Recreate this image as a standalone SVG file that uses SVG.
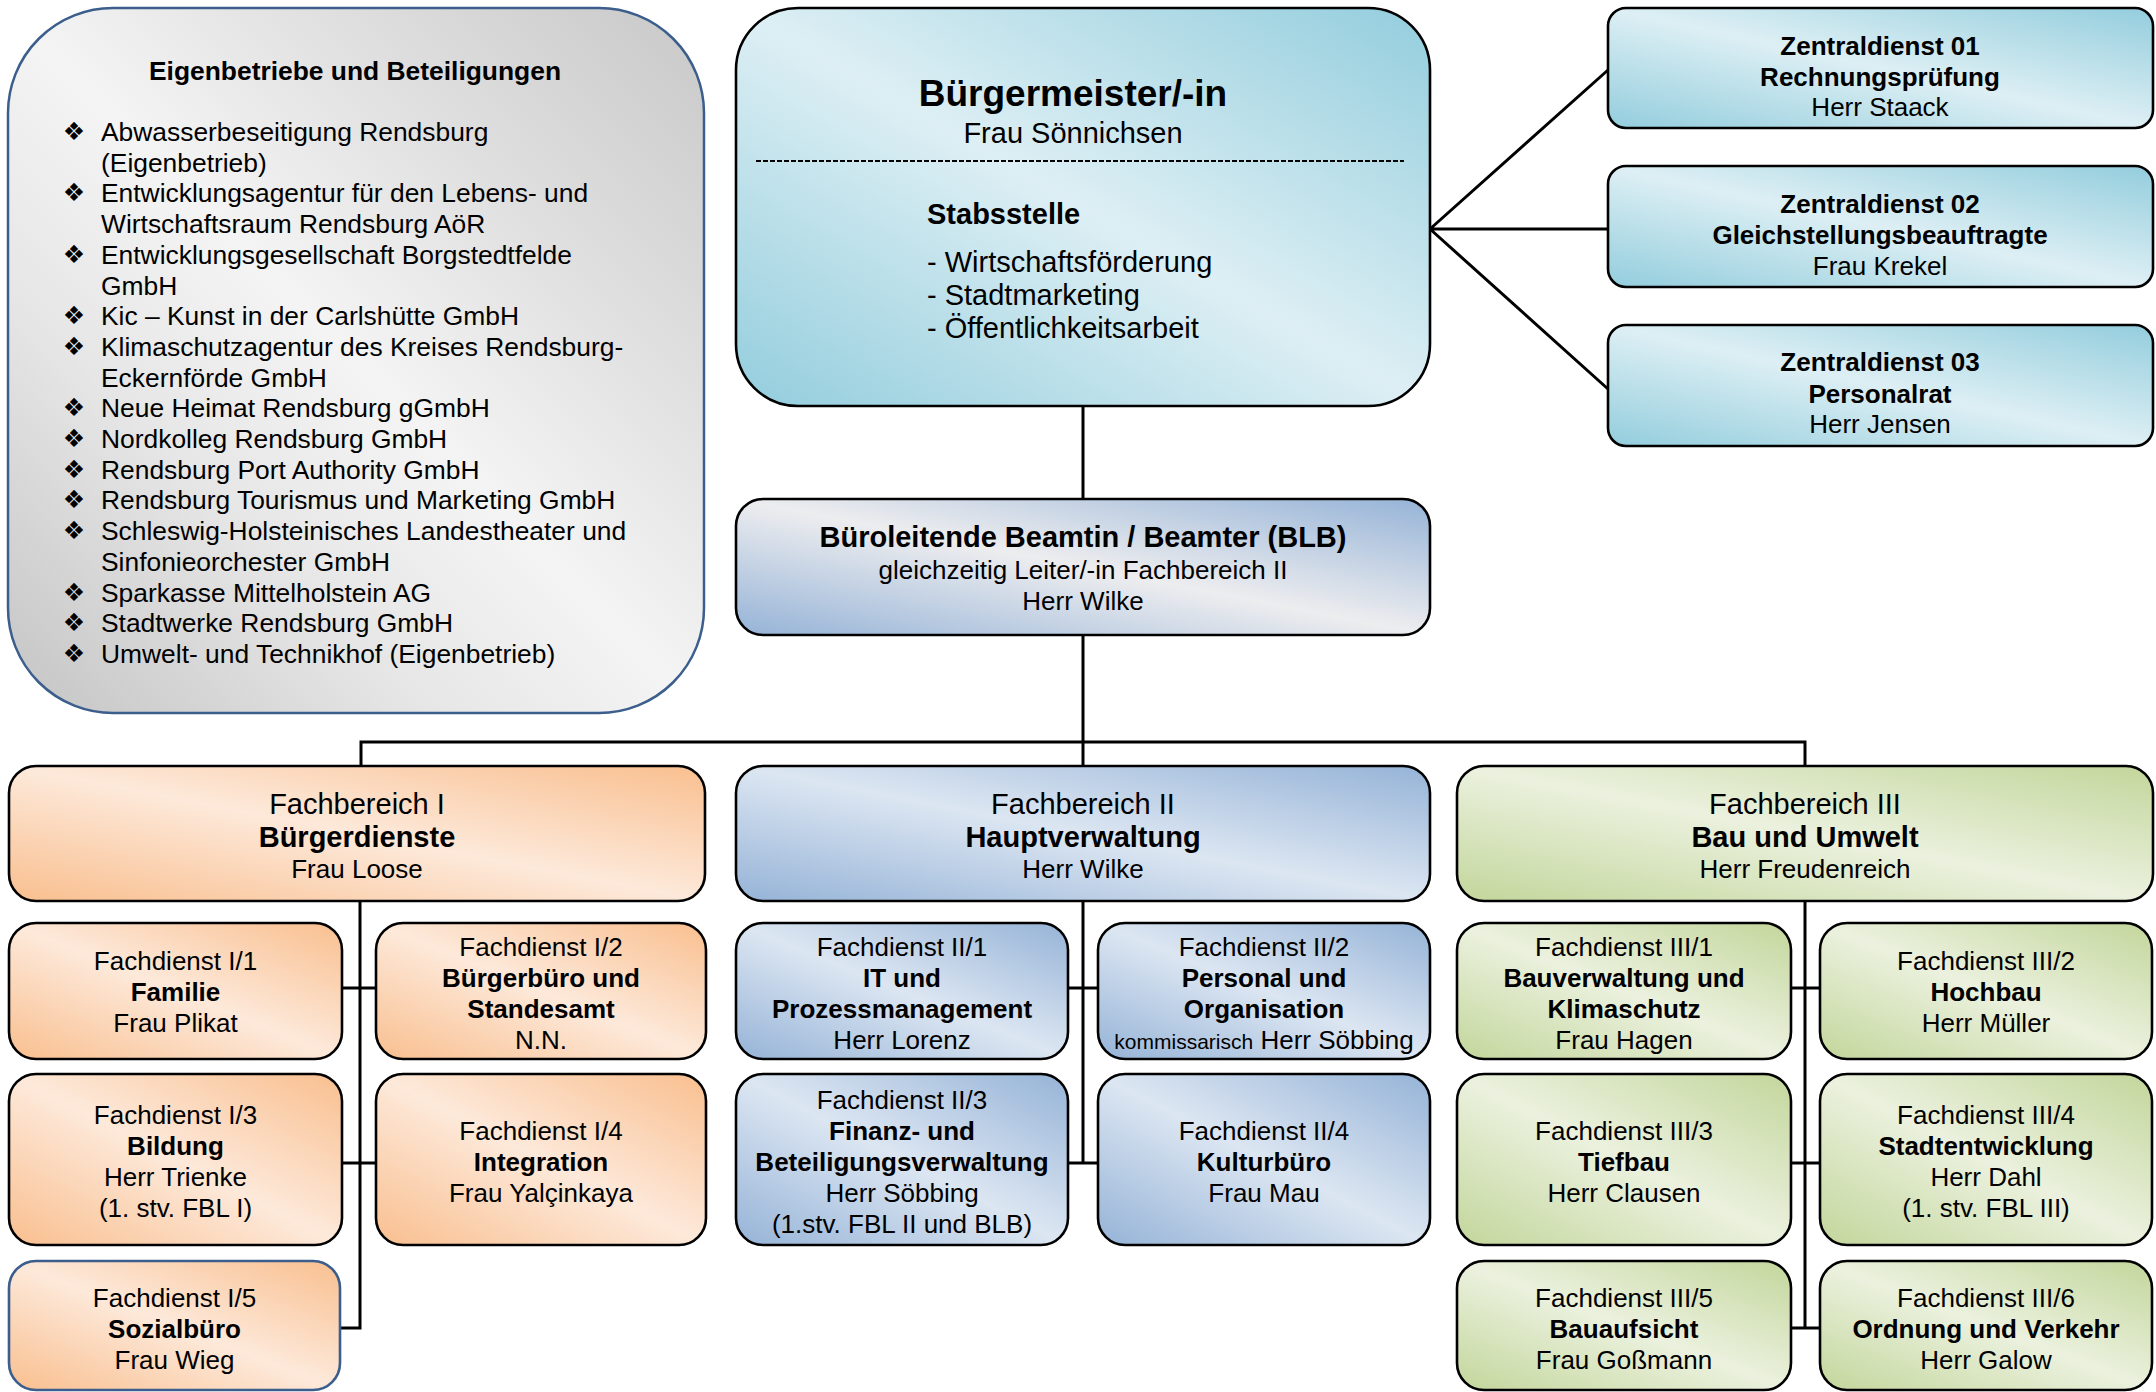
<svg xmlns="http://www.w3.org/2000/svg" width="2156" height="1392" viewBox="0 0 2156 1392">
<defs>
<linearGradient id="gSilver" x1="0" y1="1" x2="1" y2="0">
<stop offset="0" stop-color="#c4c4c4"/><stop offset="0.3" stop-color="#e6e6e6"/><stop offset="0.5" stop-color="#f4f4f4"/><stop offset="0.72" stop-color="#e0e0e0"/><stop offset="1" stop-color="#c8c8c8"/>
</linearGradient>
<linearGradient id="gTeal" x1="0" y1="1" x2="1" y2="0">
<stop offset="0" stop-color="#93CDDD"/><stop offset="0.5" stop-color="#DDEFF4"/><stop offset="1" stop-color="#93CDDD"/>
</linearGradient>
<linearGradient id="gBLB" x1="0" y1="1" x2="1" y2="0">
<stop offset="0" stop-color="#95B3D7"/><stop offset="0.5" stop-color="#EDEDEF"/><stop offset="1" stop-color="#95B3D7"/>
</linearGradient>
<linearGradient id="gOrange" x1="0" y1="1" x2="1" y2="0">
<stop offset="0" stop-color="#F9BF8F"/><stop offset="0.5" stop-color="#FDE9DA"/><stop offset="1" stop-color="#F9BF8F"/>
</linearGradient>
<linearGradient id="gBlue" x1="0" y1="1" x2="1" y2="0">
<stop offset="0" stop-color="#95B3D7"/><stop offset="0.5" stop-color="#DCE6F2"/><stop offset="1" stop-color="#95B3D7"/>
</linearGradient>
<linearGradient id="gGreen" x1="0" y1="1" x2="1" y2="0">
<stop offset="0" stop-color="#C3D69B"/><stop offset="0.5" stop-color="#EBF1DE"/><stop offset="1" stop-color="#C3D69B"/>
</linearGradient>
<style>
text{font-family:"Liberation Sans",Arial,Helvetica,sans-serif;fill:#000}
.c{text-anchor:middle}
.f26{font-size:26px}
.l26{font-size:26.4px}
.f29{font-size:29px}
.f21{font-size:21px}
.f37{font-size:37px}
.b{font-weight:bold}
.bul{font-family:"DejaVu Sans",sans-serif;font-size:25px;text-anchor:middle}
.box{stroke:#000;stroke-width:2.6}
.con{stroke:#000;stroke-width:3;fill:none}
.or{fill:url(#gOrange)}
.bl{fill:url(#gBlue)}
.gr{fill:url(#gGreen)}
.te{fill:url(#gTeal)}
</style>
</defs>
<rect width="2156" height="1392" fill="#fff"/>

<g id="connectors">
<path class="con" d="M1083 406 V499 M1083 635 V742 M361 766 V742 H1805 V766 M1083 742 V766"/>
<path class="con" d="M1430 229 L1608 70 M1430 229 H1608 M1430 229 L1608 389"/>
<path class="con" d="M360 901 V1328 H340 M342 988 H376 M342 1163 H376"/>
<path class="con" d="M1083 901 V1163 M1068 988 H1098 M1068 1163 H1098"/>
<path class="con" d="M1805 901 V1328 M1791 988 H1820 M1791 1163 H1820 M1791 1328 H1820"/>
</g>

<g id="eigenbetriebe">
<rect x="8" y="8" width="696" height="705" rx="105" fill="url(#gSilver)" stroke="#3B5E8C" stroke-width="2.5"/>
<text x="355" y="80" class="c l26 b">Eigenbetriebe und Beteiligungen</text>
<text class="bul" x="74" y="140">❖</text>
<text class="bul" x="74" y="201">❖</text>
<text class="bul" x="74" y="263">❖</text>
<text class="bul" x="74" y="324">❖</text>
<text class="bul" x="74" y="355">❖</text>
<text class="bul" x="74" y="416">❖</text>
<text class="bul" x="74" y="447">❖</text>
<text class="bul" x="74" y="478">❖</text>
<text class="bul" x="74" y="508">❖</text>
<text class="bul" x="74" y="539">❖</text>
<text class="bul" x="74" y="601">❖</text>
<text class="bul" x="74" y="631">❖</text>
<text class="bul" x="74" y="662">❖</text>
<text class="l26">
<tspan x="101" y="141">Abwasserbeseitigung Rendsburg</tspan>
<tspan x="101" y="171.7">(Eigenbetrieb)</tspan>
<tspan x="101" y="202.4">Entwicklungsagentur für den Lebens- und</tspan>
<tspan x="101" y="233.1">Wirtschaftsraum Rendsburg AöR</tspan>
<tspan x="101" y="263.8">Entwicklungsgesellschaft Borgstedtfelde</tspan>
<tspan x="101" y="294.5">GmbH</tspan>
<tspan x="101" y="325.2">Kic – Kunst in der Carlshütte GmbH</tspan>
<tspan x="101" y="355.9">Klimaschutzagentur des Kreises Rendsburg-</tspan>
<tspan x="101" y="386.6">Eckernförde GmbH</tspan>
<tspan x="101" y="417.3">Neue Heimat Rendsburg gGmbH</tspan>
<tspan x="101" y="448">Nordkolleg Rendsburg GmbH</tspan>
<tspan x="101" y="478.7">Rendsburg Port Authority GmbH</tspan>
<tspan x="101" y="509.4">Rendsburg Tourismus und Marketing GmbH</tspan>
<tspan x="101" y="540.1">Schleswig-Holsteinisches Landestheater und</tspan>
<tspan x="101" y="570.8">Sinfonieorchester GmbH</tspan>
<tspan x="101" y="601.5">Sparkasse Mittelholstein AG</tspan>
<tspan x="101" y="632.2">Stadtwerke Rendsburg GmbH</tspan>
<tspan x="101" y="662.9">Umwelt- und Technikhof (Eigenbetrieb)</tspan>
</text>
</g>

<g id="buergermeister">
<rect x="736" y="8" width="694" height="398" rx="62" class="box te"/>
<text x="1073" y="106" class="c f37 b">Bürgermeister/-in</text>
<text x="1073" y="143" class="c f29">Frau Sönnichsen</text>
<line x1="756" y1="161" x2="1404" y2="161" stroke="#000" stroke-width="2" stroke-dasharray="5 2"/>
<text x="927" y="224" class="f29 b">Stabsstelle</text>
<text x="927" y="272" class="f29">- Wirtschaftsförderung</text>
<text x="927" y="305" class="f29">- Stadtmarketing</text>
<text x="927" y="338" class="f29">- Öffentlichkeitsarbeit</text>
</g>

<g id="zd01">
<rect x="1608" y="8" width="545" height="120" rx="18" class="box te"/>
<text x="1880" y="54.5" class="c f26 b">Zentraldienst 01</text>
<text x="1880" y="85.5" class="c f26 b">Rechnungsprüfung</text>
<text x="1880" y="116" class="c f26">Herr Staack</text>
</g>
<g id="zd02">
<rect x="1608" y="166" width="545" height="121" rx="18" class="box te"/>
<text x="1880" y="212.5" class="c f26 b">Zentraldienst 02</text>
<text x="1880" y="244" class="c f26 b">Gleichstellungsbeauftragte</text>
<text x="1880" y="274.5" class="c f26">Frau Krekel</text>
</g>
<g id="zd03">
<rect x="1608" y="325" width="545" height="121" rx="18" class="box te"/>
<text x="1880" y="371" class="c f26 b">Zentraldienst 03</text>
<text x="1880" y="402.5" class="c f26 b">Personalrat</text>
<text x="1880" y="432.5" class="c f26">Herr Jensen</text>
</g>

<g id="blb">
<rect x="736" y="499" width="694" height="136" rx="27" class="box" fill="url(#gBLB)"/>
<text x="1083" y="547" class="c f29 b">Büroleitende Beamtin / Beamter (BLB)</text>
<text x="1083" y="579" class="c f26">gleichzeitig Leiter/-in Fachbereich II</text>
<text x="1083" y="610" class="c f26">Herr Wilke</text>
</g>

<g id="fb1">
<rect x="9" y="766" width="696" height="135" rx="27" class="box or"/>
<text x="357" y="814" class="c f29">Fachbereich I</text>
<text x="357" y="847" class="c f29 b">Bürgerdienste</text>
<text x="357" y="878" class="c f26">Frau Loose</text>
</g>
<g id="fb2">
<rect x="736" y="766" width="694" height="135" rx="27" class="box bl"/>
<text x="1083" y="814" class="c f29">Fachbereich II</text>
<text x="1083" y="847" class="c f29 b">Hauptverwaltung</text>
<text x="1083" y="878" class="c f26">Herr Wilke</text>
</g>
<g id="fb3">
<rect x="1457" y="766" width="696" height="135" rx="27" class="box gr"/>
<text x="1805" y="814" class="c f29">Fachbereich III</text>
<text x="1805" y="847" class="c f29 b">Bau und Umwelt</text>
<text x="1805" y="878" class="c f26">Herr Freudenreich</text>
</g>

<g id="fd1-1">
<rect x="9" y="923" width="333" height="136" rx="27" class="box or"/>
<text x="175.5" y="969.5" class="c f26">Fachdienst I/1</text>
<text x="175.5" y="1000.5" class="c f26 b">Familie</text>
<text x="175.5" y="1031.5" class="c f26">Frau Plikat</text>
</g>
<g id="fd1-2">
<rect x="376" y="923" width="330" height="136" rx="27" class="box or"/>
<text x="541" y="956" class="c f26">Fachdienst I/2</text>
<text x="541" y="987" class="c f26 b">Bürgerbüro und</text>
<text x="541" y="1018" class="c f26 b">Standesamt</text>
<text x="541" y="1049" class="c f26">N.N.</text>
</g>
<g id="fd1-3">
<rect x="9" y="1074" width="333" height="171" rx="27" class="box or"/>
<text x="175.5" y="1123.5" class="c f26">Fachdienst I/3</text>
<text x="175.5" y="1154.5" class="c f26 b">Bildung</text>
<text x="175.5" y="1185.5" class="c f26">Herr Trienke</text>
<text x="175.5" y="1216.5" class="c f26">(1. stv. FBL I)</text>
</g>
<g id="fd1-4">
<rect x="376" y="1074" width="330" height="171" rx="27" class="box or"/>
<text x="541" y="1139.5" class="c f26">Fachdienst I/4</text>
<text x="541" y="1170.5" class="c f26 b">Integration</text>
<text x="541" y="1201.5" class="c f26">Frau Yalçinkaya</text>
</g>
<g id="fd1-5">
<rect x="9" y="1261" width="331" height="129" rx="27" class="or" stroke="#3B5E8C" stroke-width="2.6"/>
<text x="174.5" y="1306.5" class="c f26">Fachdienst I/5</text>
<text x="174.5" y="1337.5" class="c f26 b">Sozialbüro</text>
<text x="174.5" y="1368.5" class="c f26">Frau Wieg</text>
</g>

<g id="fd2-1">
<rect x="736" y="923" width="332" height="136" rx="27" class="box bl"/>
<text x="902" y="956" class="c f26">Fachdienst II/1</text>
<text x="902" y="987" class="c f26 b">IT und</text>
<text x="902" y="1018" class="c f26 b">Prozessmanagement</text>
<text x="902" y="1049" class="c f26">Herr Lorenz</text>
</g>
<g id="fd2-2">
<rect x="1098" y="923" width="332" height="136" rx="27" class="box bl"/>
<text x="1264" y="956" class="c f26">Fachdienst II/2</text>
<text x="1264" y="987" class="c f26 b">Personal und</text>
<text x="1264" y="1018" class="c f26 b">Organisation</text>
<text x="1264" y="1049" class="c f26"><tspan class="f21">kommissarisch</tspan> Herr Söbbing</text>
</g>
<g id="fd2-3">
<rect x="736" y="1074" width="332" height="171" rx="27" class="box bl"/>
<text x="902" y="1109" class="c f26">Fachdienst II/3</text>
<text x="902" y="1140" class="c f26 b">Finanz- und</text>
<text x="902" y="1171" class="c f26 b">Beteiligungsverwaltung</text>
<text x="902" y="1202" class="c f26">Herr Söbbing</text>
<text x="902" y="1233" class="c f26">(1.stv. FBL II und BLB)</text>
</g>
<g id="fd2-4">
<rect x="1098" y="1074" width="332" height="171" rx="27" class="box bl"/>
<text x="1264" y="1139.5" class="c f26">Fachdienst II/4</text>
<text x="1264" y="1170.5" class="c f26 b">Kulturbüro</text>
<text x="1264" y="1201.5" class="c f26">Frau Mau</text>
</g>

<g id="fd3-1">
<rect x="1457" y="923" width="334" height="136" rx="27" class="box gr"/>
<text x="1624" y="956" class="c f26">Fachdienst III/1</text>
<text x="1624" y="987" class="c f26 b">Bauverwaltung und</text>
<text x="1624" y="1018" class="c f26 b">Klimaschutz</text>
<text x="1624" y="1049" class="c f26">Frau Hagen</text>
</g>
<g id="fd3-2">
<rect x="1820" y="923" width="332" height="136" rx="27" class="box gr"/>
<text x="1986" y="969.5" class="c f26">Fachdienst III/2</text>
<text x="1986" y="1000.5" class="c f26 b">Hochbau</text>
<text x="1986" y="1031.5" class="c f26">Herr Müller</text>
</g>
<g id="fd3-3">
<rect x="1457" y="1074" width="334" height="171" rx="27" class="box gr"/>
<text x="1624" y="1139.5" class="c f26">Fachdienst III/3</text>
<text x="1624" y="1170.5" class="c f26 b">Tiefbau</text>
<text x="1624" y="1201.5" class="c f26">Herr Clausen</text>
</g>
<g id="fd3-4">
<rect x="1820" y="1074" width="332" height="171" rx="27" class="box gr"/>
<text x="1986" y="1123.5" class="c f26">Fachdienst III/4</text>
<text x="1986" y="1154.5" class="c f26 b">Stadtentwicklung</text>
<text x="1986" y="1185.5" class="c f26">Herr Dahl</text>
<text x="1986" y="1216.5" class="c f26">(1. stv. FBL III)</text>
</g>
<g id="fd3-5">
<rect x="1457" y="1261" width="334" height="129" rx="27" class="box gr"/>
<text x="1624" y="1306.5" class="c f26">Fachdienst III/5</text>
<text x="1624" y="1337.5" class="c f26 b">Bauaufsicht</text>
<text x="1624" y="1368.5" class="c f26">Frau Goßmann</text>
</g>
<g id="fd3-6">
<rect x="1820" y="1261" width="332" height="129" rx="27" class="box gr"/>
<text x="1986" y="1306.5" class="c f26">Fachdienst III/6</text>
<text x="1986" y="1337.5" class="c f26 b">Ordnung und Verkehr</text>
<text x="1986" y="1368.5" class="c f26">Herr Galow</text>
</g>
</svg>
